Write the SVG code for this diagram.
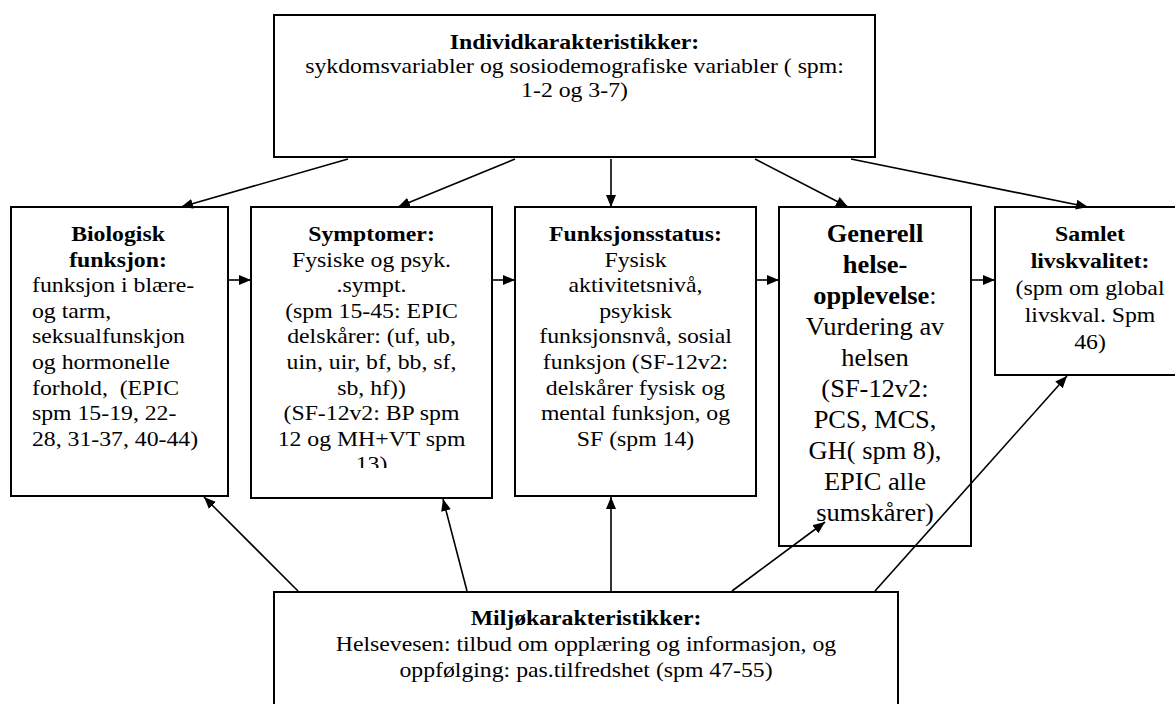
<svg xmlns="http://www.w3.org/2000/svg" width="1175" height="704" viewBox="0 0 1175 704">
<style>
.box{fill:#fff;stroke:#000;stroke-width:2}
.t{font-family:"Liberation Serif","Times New Roman",serif;font-size:22px;fill:#000;text-anchor:middle}
.l{text-anchor:start}
.b{font-weight:bold}
.big{font-size:24.5px}
.c{fill:none;stroke:#000;stroke-width:1.6}
</style>
<defs>
<marker id="ah" markerUnits="userSpaceOnUse" markerWidth="13" markerHeight="11" refX="12" refY="5" orient="auto">
<path d="M0,0 L12,5 L0,10 z" fill="#000"/>
</marker>
<clipPath id="c2"><rect x="251" y="207" width="241" height="261"/></clipPath>
</defs>

<g id="individ">
<rect class="box" x="274" y="15" width="601" height="142"/>
<g transform="translate(574.5 0) scale(1.08 1)">
<text class="t b" x="0" y="49">Individkarakteristikker:</text>
<text class="t" x="0" y="73">sykdomsvariabler og sosiodemografiske variabler ( spm:</text>
<text class="t" x="0" y="97">1-2 og 3-7)</text>
</g>
</g>

<g id="biologisk">
<rect class="box" x="11" y="207" width="217" height="289"/>
<g transform="translate(118 0) scale(1.08 1)">
<text class="t b" x="0" y="241">Biologisk</text>
<text class="t b" x="0" y="266.6">funksjon:</text>
</g>
<g transform="translate(32 0) scale(1.08 1)">
<text class="t l" x="0" y="292.2">funksjon i blære-</text>
<text class="t l" x="0" y="317.8">og tarm,</text>
<text class="t l" x="0" y="343.4">seksualfunskjon</text>
<text class="t l" x="0" y="369">og hormonelle</text>
<text class="t l" x="0" y="394.6">forhold,&#160; (EPIC</text>
<text class="t l" x="0" y="420.2">spm 15-19, 22-</text>
<text class="t l" x="0" y="445.8">28, 31-37, 40-44)</text>
</g>
</g>

<g id="symptomer">
<rect class="box" x="251" y="207" width="241" height="291"/>
<g clip-path="url(#c2)">
<g transform="translate(371.5 0) scale(1.08 1)">
<text class="t b" x="0" y="241">Symptomer:</text>
<text class="t" x="0" y="266.6">Fysiske og psyk.</text>
<text class="t" x="0" y="292.2">.sympt.</text>
<text class="t" x="0" y="317.8">(spm 15-45: EPIC</text>
<text class="t" x="0" y="343.4">delskårer: (uf, ub,</text>
<text class="t" x="0" y="369">uin, uir, bf, bb, sf,</text>
<text class="t" x="0" y="394.6">sb, hf))</text>
<text class="t" x="0" y="420.2">(SF-12v2: BP spm</text>
<text class="t" x="0" y="445.8">12 og MH+VT spm</text>
<text class="t" x="0" y="471.4">13)</text>
</g>
</g>
</g>

<g id="funksjonsstatus">
<rect class="box" x="515" y="207" width="241" height="289"/>
<g transform="translate(635.5 0) scale(1.08 1)">
<text class="t b" x="0" y="241">Funksjonsstatus:</text>
<text class="t" x="0" y="266.6">Fysisk</text>
<text class="t" x="0" y="292.2">aktivitetsnivå,</text>
<text class="t" x="0" y="317.8">psykisk</text>
<text class="t" x="0" y="343.4">funksjonsnvå, sosial</text>
<text class="t" x="0" y="369">funksjon (SF-12v2:</text>
<text class="t" x="0" y="394.6">delskårer fysisk og</text>
<text class="t" x="0" y="420.2">mental funksjon, og</text>
<text class="t" x="0" y="445.8">SF (spm 14)</text>
</g>
</g>

<g id="generell">
<rect class="box" x="779" y="207" width="192" height="339"/>
<g transform="translate(875 0) scale(1.08 1)">
<text class="t big b" x="0" y="242">Generell</text>
<text class="t big b" x="0" y="273">helse-</text>
<text class="t big" x="0" y="304"><tspan class="b">opplevelse</tspan>:</text>
<text class="t big" x="0" y="335">Vurdering av</text>
<text class="t big" x="0" y="366">helsen</text>
<text class="t big" x="0" y="397">(SF-12v2:</text>
<text class="t big" x="0" y="428">PCS, MCS,</text>
<text class="t big" x="0" y="459">GH( spm 8),</text>
<text class="t big" x="0" y="490">EPIC alle</text>
<text class="t big" x="0" y="521">sumskårer)</text>
</g>
</g>

<g id="samlet">
<rect class="box" x="995" y="207" width="192" height="168"/>
<g transform="translate(1090 0) scale(1.08 1)">
<text class="t b" x="0" y="241">Samlet</text>
<text class="t b" x="0" y="268">livskvalitet:</text>
<text class="t" x="0" y="295">(spm om global</text>
<text class="t" x="0" y="322">livskval. Spm</text>
<text class="t" x="0" y="349">46)</text>
</g>
</g>

<g id="miljo">
<rect class="box" x="274" y="592" width="624" height="130"/>
<g transform="translate(586 0) scale(1.08 1)">
<text class="t b" x="0" y="625">Miljøkarakteristikker:</text>
<text class="t" x="0" y="651">Helsevesen: tilbud om opplæring og informasjon, og</text>
<text class="t" x="0" y="677">oppfølging: pas.tilfredshet (spm 47-55)</text>
</g>
</g>

<g id="connectors">
<line class="c" x1="348" y1="159" x2="181" y2="207" marker-end="url(#ah)"/>
<line class="c" x1="515" y1="159" x2="398" y2="207" marker-end="url(#ah)"/>
<line class="c" x1="611" y1="159" x2="611" y2="207" marker-end="url(#ah)"/>
<line class="c" x1="755" y1="159" x2="848" y2="207" marker-end="url(#ah)"/>
<line class="c" x1="851" y1="159" x2="1088" y2="207" marker-end="url(#ah)"/>
<line class="c" x1="229" y1="280" x2="251" y2="280" marker-end="url(#ah)"/>
<line class="c" x1="493" y1="280" x2="515" y2="280" marker-end="url(#ah)"/>
<line class="c" x1="757" y1="280" x2="779" y2="280" marker-end="url(#ah)"/>
<line class="c" x1="972" y1="280" x2="995" y2="280" marker-end="url(#ah)"/>
<line class="c" x1="298" y1="591" x2="204" y2="497" marker-end="url(#ah)"/>
<line class="c" x1="467" y1="591" x2="443" y2="499" marker-end="url(#ah)"/>
<line class="c" x1="611" y1="591" x2="611" y2="497" marker-end="url(#ah)"/>
<line class="c" x1="732" y1="591" x2="825" y2="522" marker-end="url(#ah)"/>
<line class="c" x1="875" y1="591" x2="1067" y2="376" marker-end="url(#ah)"/>
</g>
</svg>
